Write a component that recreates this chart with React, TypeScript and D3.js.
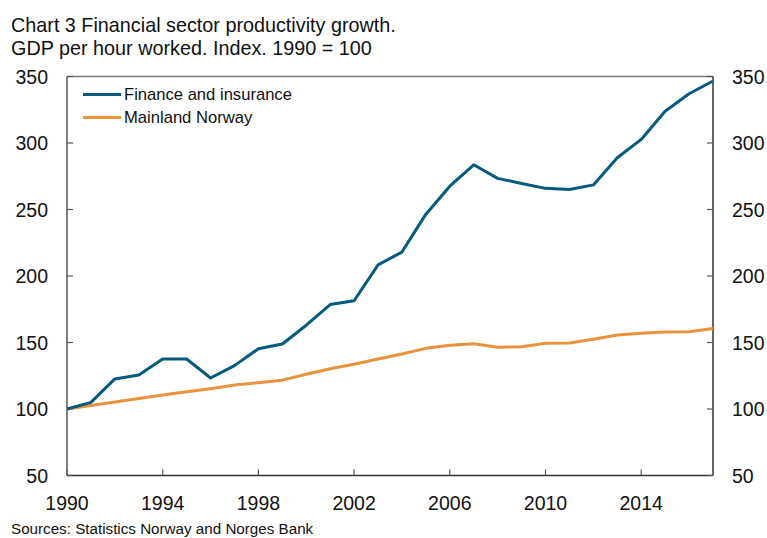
import * as d3 from 'd3'

const YEARS = [1990, 1991, 1992, 1993, 1994, 1995, 1996, 1997, 1998, 1999, 2000, 2001, 2002, 2003,
  2004, 2005, 2006, 2007, 2008, 2009, 2010, 2011, 2012, 2013, 2014, 2015, 2016, 2017]
const FINANCE = [100, 105, 122.6, 125.6, 137.6, 137.6, 123.3, 132.6, 145.3, 148.9, 163, 178.5, 181.4, 208.4,
  218, 246.5, 267.5, 283.6, 273.4, 269.6, 265.9, 265.1, 268.5, 288.9, 302.7, 323.9, 337, 346.6]
const MAINLAND = [100, 102.7, 105.2, 107.9, 110.5, 112.9, 115.3, 118.1, 119.8, 121.7, 126.1, 130.3, 133.6, 137.6,
  141.4, 145.6, 148, 149.1, 146.4, 146.8, 149.4, 149.6, 152.4, 155.6, 156.9, 157.9, 158.1, 160.6]
const Y_TICKS = [50, 100, 150, 200, 250, 300, 350]
const X_TICKS = [1990, 1994, 1998, 2002, 2006, 2010, 2014]
const SERIES = [
  { name: 'Finance and insurance', values: FINANCE, color: '#055b7d' },
  { name: 'Mainland Norway', values: MAINLAND, color: '#e8923c' },
]

const W = 767
const H = 538
const PLOT = { left: 67, right: 713, top: 76.5, bottom: 475.5 }
const FONT = '"Liberation Sans", Arial, Helvetica, sans-serif'

export default function App() {
  const x = d3.scaleLinear().domain([1990, 2017]).range([PLOT.left, PLOT.right])
  const y = d3.scaleLinear().domain([50, 350]).range([PLOT.bottom, PLOT.top])

  const line = d3.line<number>()
    .x((_, i) => x(YEARS[i]))
    .y((d) => y(d))

  return (
    <svg width={W} height={H} style={{ position: 'absolute', left: 0, top: 0, display: 'block' }}
      fontFamily={FONT}>
      <rect width={W} height={H} fill="#fff" />

      {/* Title */}
      <text x={11} y={32} fontSize={19.8} fill="#111">Chart 3 Financial sector productivity growth.</text>
      <text x={11} y={55} fontSize={19.8} fill="#111">GDP per hour worked. Index. 1990 = 100</text>

      {/* Frame */}
      <line x1={PLOT.left} x2={PLOT.right} y1={PLOT.top} y2={PLOT.top} stroke="#777" strokeWidth={1.5} />
      <line x1={PLOT.left} x2={PLOT.right} y1={PLOT.bottom} y2={PLOT.bottom} stroke="#333" strokeWidth={1.5} />
      <line x1={PLOT.left} x2={PLOT.left} y1={PLOT.top} y2={PLOT.bottom} stroke="#555" strokeWidth={1.5} />
      <line x1={PLOT.right} x2={PLOT.right} y1={PLOT.top} y2={PLOT.bottom} stroke="#333" strokeWidth={1.5} />

      {/* Y ticks, both sides */}
      {Y_TICKS.map((t) => (
        <g key={t}>
          <line x1={PLOT.left} x2={PLOT.left + 6} y1={y(t)} y2={y(t)} stroke="#555" strokeWidth={1.2} />
          <line x1={PLOT.right - 6} x2={PLOT.right} y1={y(t)} y2={y(t)} stroke="#555" strokeWidth={1.2} />
          <text x={48} y={y(t)} dy="0.36em" textAnchor="end" fontSize={19.5} fill="#111">{t}</text>
          <text x={732} y={y(t)} dy="0.36em" textAnchor="start" fontSize={19.5} fill="#111">{t}</text>
        </g>
      ))}

      {/* X ticks */}
      {X_TICKS.map((t) => (
        <g key={t}>
          <line x1={x(t)} x2={x(t)} y1={PLOT.bottom} y2={PLOT.bottom - 6} stroke="#555" strokeWidth={1.2} />
          <text x={x(t)} y={510} textAnchor="middle" fontSize={19.5} fill="#111">{t}</text>
        </g>
      ))}

      {/* Lines */}
      {SERIES.slice().reverse().map((s) => (
        <path key={s.name} d={line(s.values) ?? ''} fill="none" stroke={s.color} strokeWidth={3}
          strokeLinejoin="round" />
      ))}

      {/* Legend */}
      {SERIES.map((s, i) => (
        <g key={s.name} transform={`translate(83,${94.5 + i * 23})`}>
          <line x1={0} x2={38} y1={0} y2={0} stroke={s.color} strokeWidth={3} />
          <text x={41} y={0} dy="0.36em" fontSize={16.6} fill="#111">{s.name}</text>
        </g>
      ))}

      {/* Source */}
      <text x={11} y={534} fontSize={15.2} fill="#111">Sources: Statistics Norway and Norges Bank</text>
    </svg>
  )
}
